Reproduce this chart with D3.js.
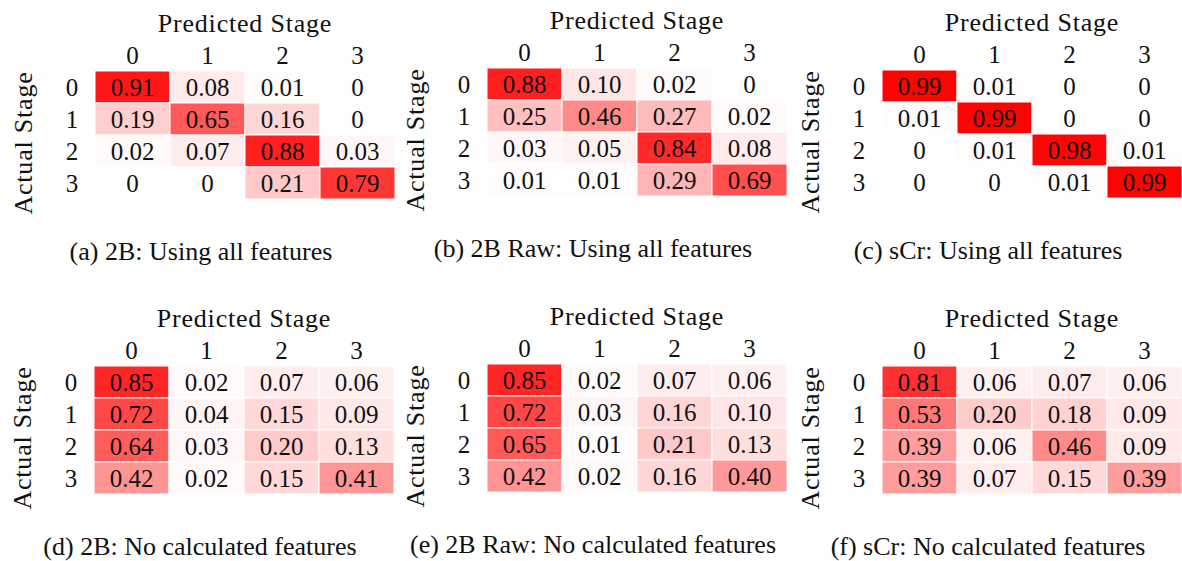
<!DOCTYPE html>
<html>
<head>
<meta charset="utf-8">
<script src="https://cdn.jsdelivr.net/npm/d3@7"></script>
<style>
  body { margin: 0; background: #fff; }
  svg { display: block; }
</style>
</head>
<body>
<div id="chart"></div>
<script>
// stage labels (rows = actual, columns = predicted)
var stages = ["0", "1", "2", "3"];

var captions = [
    "(a) 2B: Using all features",
    "(b) 2B Raw: Using all features",
    "(c) sCr: Using all features",
    "(d) 2B: No calculated features",
    "(e) 2B Raw: No calculated features",
    "(f) sCr: No calculated features"
];

// confusion matrices, one row per actual stage
var cm_2b_all = [[0.91, 0.08, 0.01, 0], [0.19, 0.65, 0.16, 0], [0.02, 0.07, 0.88, 0.03], [0, 0, 0.21, 0.79]];
var cm_2braw_all = [[0.88, 0.10, 0.02, 0], [0.25, 0.46, 0.27, 0.02], [0.03, 0.05, 0.84, 0.08], [0.01, 0.01, 0.29, 0.69]];
var cm_scr_all = [[0.99, 0.01, 0, 0], [0.01, 0.99, 0, 0], [0, 0.01, 0.98, 0.01], [0, 0, 0.01, 0.99]];
var cm_2b_nocalc = [[0.85, 0.02, 0.07, 0.06], [0.72, 0.04, 0.15, 0.09], [0.64, 0.03, 0.20, 0.13], [0.42, 0.02, 0.15, 0.41]];
var cm_2braw_nocalc = [[0.85, 0.02, 0.07, 0.06], [0.72, 0.03, 0.16, 0.10], [0.65, 0.01, 0.21, 0.13], [0.42, 0.02, 0.16, 0.40]];
var cm_scr_nocalc = [[0.81, 0.06, 0.07, 0.06], [0.53, 0.20, 0.18, 0.09], [0.39, 0.06, 0.46, 0.09], [0.39, 0.07, 0.15, 0.39]];

var matrices = [cm_2b_all, cm_2braw_all, cm_scr_all, cm_2b_nocalc, cm_2braw_nocalc, cm_scr_nocalc];

// top-left corner of each grid
var origins = [[95, 71], [487, 68], [882, 70], [94, 366], [487, 364], [882, 366]];

var W = 1182, H = 561;
var gridW = 300, gridH = 128;
var serif = "'Liberation Serif', 'DejaVu Serif', 'Noto Serif', serif";

var svg = d3.select("#chart").append("svg")
    .attr("width", W)
    .attr("height", H)
    .attr("font-family", serif)
    .style("font-family", serif);

// white -> red
var color = d3.scaleLinear().domain([0, 1]).range(["#ffffff", "#ff0000"]);

var x = d3.scaleBand().domain(stages).range([0, gridW]);
var y = d3.scaleBand().domain(stages).range([0, gridH]);

function fmt(v) { return v === 0 ? "0" : v.toFixed(2); }

matrices.forEach(function (m, p) {
    var g = svg.append("g")
        .attr("transform", "translate(" + origins[p][0] + "," + origins[p][1] + ")");

    // flatten into cells
    var cells = [];
    m.forEach(function (row, i) {
        row.forEach(function (v, j) {
            cells.push({ r: stages[i], c: stages[j], v: v });
        });
    });

    g.selectAll("rect").data(cells).enter().append("rect")
        .attr("x", function (d) { return x(d.c); })
        .attr("y", function (d) { return y(d.r); })
        .attr("width", x.bandwidth())
        .attr("height", y.bandwidth())
        .attr("fill", function (d) { return color(d.v); })
        .attr("stroke", "#fff")
        .attr("stroke-width", 1);

    g.selectAll("text.val").data(cells).enter().append("text")
        .attr("class", "val")
        .attr("x", function (d) { return x(d.c) + x.bandwidth() / 2; })
        .attr("y", function (d) { return y(d.r) + y.bandwidth() / 2; })
        .attr("dy", "0.35em")
        .attr("text-anchor", "middle")
        .attr("font-size", 25)
        .attr("fill", "#111")
        .text(function (d) { return fmt(d.v); });

    // column ticks
    g.selectAll("text.col").data(stages).enter().append("text")
        .attr("class", "col")
        .attr("x", function (d) { return x(d) + x.bandwidth() / 2; })
        .attr("y", -16)
        .attr("dy", "0.35em")
        .attr("text-anchor", "middle")
        .attr("font-size", 25)
        .attr("fill", "#111")
        .text(function (d) { return d; });

    // row ticks
    g.selectAll("text.row").data(stages).enter().append("text")
        .attr("class", "row")
        .attr("x", -23)
        .attr("y", function (d) { return y(d) + y.bandwidth() / 2; })
        .attr("dy", "0.35em")
        .attr("text-anchor", "middle")
        .attr("font-size", 25)
        .attr("fill", "#111")
        .text(function (d) { return d; });

    g.append("text")
        .attr("x", gridW / 2)
        .attr("y", -48)
        .attr("dy", "0.35em")
        .attr("text-anchor", "middle")
        .attr("font-size", 26)
        .attr("letter-spacing", 0.8)
        .attr("fill", "#111")
        .text("Predicted Stage");

    g.append("text")
        .attr("transform", "translate(-72," + 72 + ") rotate(-90)")
        .attr("dy", "0.35em")
        .attr("text-anchor", "middle")
        .attr("font-size", 26)
        .attr("letter-spacing", 0.8)
        .attr("fill", "#111")
        .text("Actual Stage");

    g.append("text")
        .attr("x", 106)
        .attr("y", 180)
        .attr("dy", "0.35em")
        .attr("text-anchor", "middle")
        .attr("font-size", 26)
        .attr("fill", "#111")
        .text(captions[p]);
});
</script>
</body>
</html>
